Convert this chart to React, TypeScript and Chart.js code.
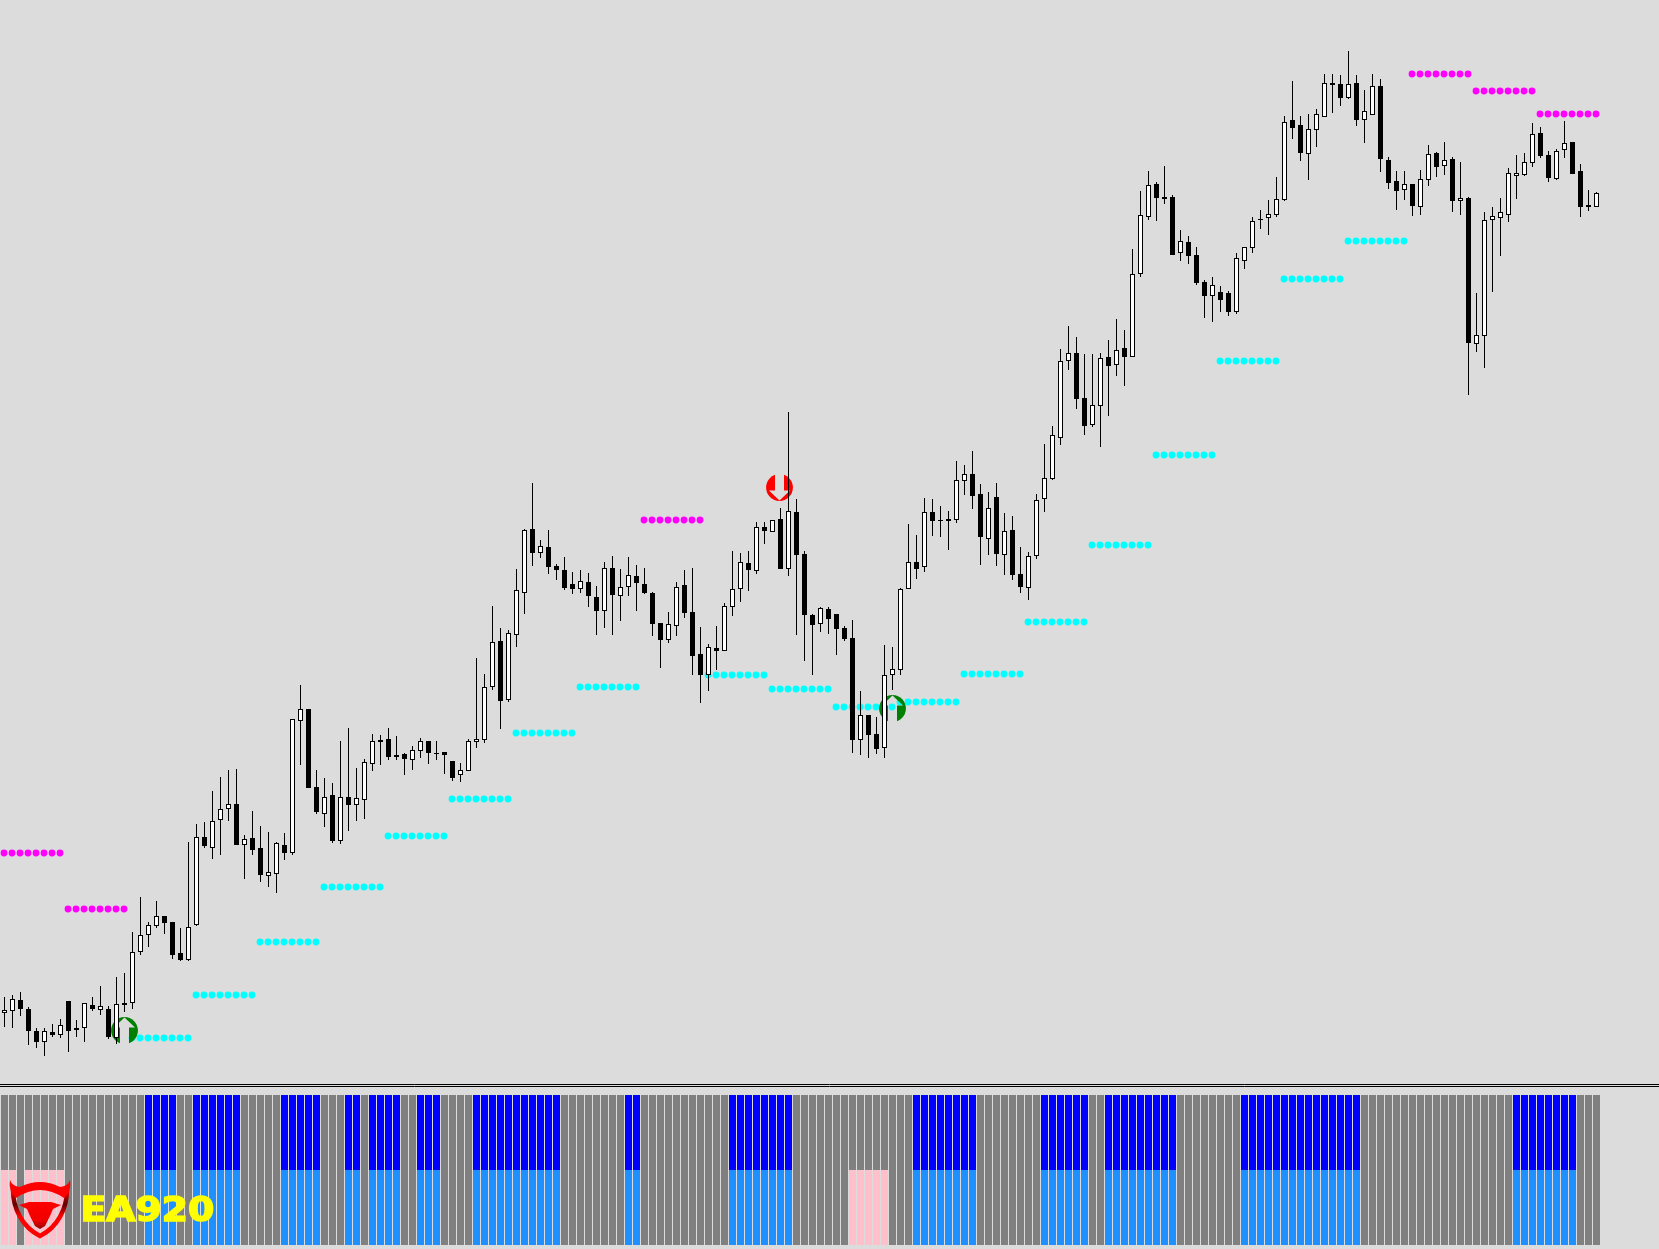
import React, { useEffect, useRef } from "react";
import { Chart, registerables } from "chart.js";

Chart.register(...registerables);

const opens = [
  87,89,100,91,69,58,68,65,99,72,
  72,95,90,91,62,97,97,148,165,174,
  184,178,147,140,175,263,252,280,291,296,
  255,262,252,224,226,255,247,379,391,313,
  286,305,259,303,295,300,336,360,361,345,
  346,340,349,359,347,348,339,325,329,358,
  360,413,459,400,465,507,571,547,553,534,
  530,516,511,518,503,489,532,504,513,524,
  516,507,477,460,474,515,488,446,425,452,
  449,493,511,537,529,573,568,581,531,588,
  546,485,476,491,486,472,462,360,385,366,
  352,425,430,511,538,533,588,580,581,580,
  619,626,606,561,603,545,570,526,512,544,
  601,621,662,739,747,702,675,694,743,735,
  752,743,826,883,916,903,903,847,858,845,
  818,804,808,807,788,839,852,881,882,885,
  900,980,975,946,970,983,1017,1016,1002,1017,
  980,985,1014,940,919,910,916,893,920,947,
  934,941,899,902,756,764,880,882,885,924,
  925,937,967,945,921,950,958,929,895,893,
];
const closes = [
  90,101,91,69,58,69,65,75,69,70,
  97,91,94,63,96,95,148,165,175,184,
  177,145,140,173,263,254,279,291,296,255,
  261,250,225,228,257,247,381,391,312,288,
  303,259,303,295,302,338,359,358,343,343,
  341,350,359,347,346,345,322,330,359,361,
  413,458,399,467,510,570,547,554,533,530,
  512,511,519,504,489,532,505,513,525,517,
  507,476,460,476,513,487,444,425,453,449,
  494,511,538,530,573,569,580,531,589,545,
  485,475,492,481,471,461,360,385,365,351,
  425,431,511,538,531,588,579,579,579,620,
  626,604,563,592,546,569,525,513,544,600,
  622,665,739,747,701,674,695,742,734,750,
  743,826,885,915,902,901,845,859,844,817,
  804,815,800,788,842,853,879,880,886,901,
  978,972,947,971,986,1017,1015,1002,1016,980,
  989,1014,941,917,909,916,894,921,946,933,
  940,899,902,757,765,880,884,888,927,927,
  938,966,944,922,949,957,926,893,893,907,
];
const highs = [
  103,105,108,93,72,72,76,81,99,80,
  97,103,114,94,123,127,168,203,178,199,
  184,178,172,258,276,278,309,323,330,331,
  265,289,274,268,258,267,381,415,391,330,
  322,317,359,372,332,341,366,365,372,364,
  347,354,362,359,359,348,339,337,361,442,
  426,494,472,470,531,571,617,560,570,536,
  543,528,530,527,514,538,544,531,543,535,
  532,508,477,488,518,530,532,473,456,474,
  497,549,547,549,578,578,580,592,688,601,
  549,486,493,493,486,474,480,409,385,383,
  455,453,512,576,565,602,601,594,589,639,
  635,649,616,608,617,587,584,553,548,606,
  656,674,751,774,763,746,746,747,760,781,
  770,851,909,929,918,934,905,870,864,853,
  820,823,814,809,847,853,883,890,900,923,
  984,1019,984,986,991,1026,1026,1025,1049,1025,
  1010,1026,1021,943,929,929,916,930,955,948,
  958,943,938,903,807,888,893,902,932,945,
  947,977,973,949,951,979,958,936,910,908,
];
const lows = [
  73,72,84,55,52,44,63,62,48,63,
  58,89,85,61,56,88,91,145,153,172,
  166,141,139,139,174,252,241,245,279,255,
  221,245,218,213,207,240,245,335,312,286,
  273,257,256,269,279,281,329,335,340,340,
  325,330,342,336,340,326,319,318,329,352,
  357,410,371,398,453,486,534,542,526,520,
  510,506,507,493,465,472,465,479,504,489,
  506,464,432,457,464,482,425,397,409,430,
  449,484,498,509,526,556,568,531,524,465,
  439,425,468,466,445,459,347,345,342,346,
  342,410,425,511,521,528,564,563,550,577,
  605,591,535,545,534,525,520,507,500,541,
  588,620,655,730,691,665,673,653,684,724,
  714,743,823,880,879,896,845,839,836,815,
  782,778,788,784,786,831,847,871,865,883,
  899,961,939,920,953,983,987,994,1001,974,
  957,985,928,911,890,900,884,885,914,923,
  925,888,885,705,748,732,808,844,878,901,
  924,933,942,918,920,942,926,883,889,893,
];

// Support / resistance dashes: each group spans eight bars from its start bar
const supportStarts = [16,24,32,40,48,56,64,72,88,96,104,112,120,128,136,144,152,160,168];
const supportLevels = [62,105,158,213,264,301,367,413,425,411,393,398,426,478,555,645,739,821,859];
const resistanceStarts = [0,8,80,176,184,192];
const resistanceLevels = [247,191,580,1026,1009,986];

// Signals
const buyBars = [15, 111];
const buyLevels = [69.5, 391.5];
const sellBars = [96.875];
const sellLevels = [612.5];

// Lower panel: runs of bars, [first, last]
const bullRuns = [[18,21],[24,29],[35,39],[43,44],[46,49],[52,54],[59,69],[78,79],[91,98],[114,121],[130,135],[138,146],[155,169],[189,196]];
const bearRuns = [[0,1],[3,7],[106,110]];

const separatorLevels = [15.5, 13.5];
const BRAND = "EA920";

const BACKGROUND = "#DCDCDC";
const DOT_SHIFT = -0.0625;

const inRuns = (runs: number[][], i: number) => runs.some(([a, b]) => i >= a && i <= b);

function signalIcon(color: string, up: boolean) {
  const size = 27;
  const c = document.createElement("canvas");
  c.width = size;
  c.height = size;
  const g = c.getContext("2d")!;
  g.translate(size / 2, size / 2);
  if (up) g.scale(1, -1);
  g.fillStyle = color;
  g.beginPath();
  g.arc(0, 0, 13.4, 0, Math.PI * 2);
  g.fill();
  g.globalCompositeOperation = "destination-out";
  g.fillStyle = "#000";
  g.beginPath();
  g.moveTo(-4.5, -15);
  g.lineTo(4.5, -15);
  g.lineTo(4.5, 3);
  g.lineTo(10.5, 3);
  g.lineTo(0, 13);
  g.lineTo(-10.5, 3);
  g.lineTo(-4.5, 3);
  g.closePath();
  g.fill();
  return c;
}

const brandPlugin = {
  id: "brand",
  afterDatasetsDraw(chart: any) {
    const g: CanvasRenderingContext2D = chart.ctx;
    g.save();
    // bull-head logo
    const side = g.createLinearGradient(0, 1190, 0, 1225);
    side.addColorStop(0, "#ff0000");
    side.addColorStop(0.4, "#600000");
    side.addColorStop(0.75, "#ff0000");
    g.lineCap = "round";
    g.strokeStyle = side;
    g.lineWidth = 4.5;
    g.beginPath();
    g.moveTo(13, 1190);
    g.bezierCurveTo(13, 1208, 22, 1227, 40, 1236);
    g.bezierCurveTo(58, 1227, 67, 1208, 67, 1190);
    g.stroke();
    g.fillStyle = "#ff0000";
    g.beginPath();
    g.moveTo(10, 1180);
    g.quadraticCurveTo(8, 1191, 16, 1198);
    g.quadraticCurveTo(40, 1182, 64, 1198);
    g.quadraticCurveTo(72, 1191, 70, 1180);
    g.quadraticCurveTo(68, 1186, 60, 1187);
    g.quadraticCurveTo(40, 1177, 20, 1187);
    g.quadraticCurveTo(12, 1186, 10, 1180);
    g.closePath();
    g.fill();
    const head = g.createLinearGradient(0, 1202, 0, 1228);
    head.addColorStop(0, "#ff0000");
    head.addColorStop(0.7, "#f00000");
    head.addColorStop(1, "#a00000");
    g.fillStyle = head;
    g.beginPath();
    g.moveTo(19, 1205);
    g.lineTo(29, 1202);
    g.lineTo(51, 1202);
    g.lineTo(61, 1205);
    g.lineTo(53, 1209);
    g.lineTo(50, 1216);
    g.lineTo(45, 1226);
    g.lineTo(40, 1229);
    g.lineTo(35, 1226);
    g.lineTo(30, 1216);
    g.lineTo(27, 1209);
    g.closePath();
    g.fill();
    // brand text
    g.translate(80.5, 1220.5);
    g.scale(1.11, 1);
    g.font = "bold 34px 'DejaVu Sans'";
    g.textBaseline = "alphabetic";
    g.fillStyle = "#FFFF00";
    g.strokeStyle = "#FFFF00";
    g.lineWidth = 1.6;
    g.lineJoin = "miter";
    g.fillText(BRAND, 0, 0);
    g.strokeText(BRAND, 0, 0);
    g.restore();
  },
};

export default function App() {
  const ref = useRef<HTMLCanvasElement>(null);

  useEffect(() => {
    const bars = opens.map((_, i) => i);
    const bullish = bars.map((i) => closes[i] > opens[i]);
    const dotPoints = (starts: number[], levels: number[]) =>
      starts.flatMap((s, g) =>
        Array.from({ length: 8 }, (_, k) => ({ x: s + k + DOT_SHIFT, y: levels[g] }))
      );
    const xMin = -0.5625;
    const xMax = 206.8125;

    const chart = new Chart(ref.current!, {
      type: "bar",
      data: {
        datasets: [
          {
            type: "scatter",
            data: buyBars.map((x, i) => ({ x, y: buyLevels[i] })),
            pointStyle: signalIcon("#008000", true) as any,
            order: 4,
          },
          {
            type: "scatter",
            data: sellBars.map((x, i) => ({ x, y: sellLevels[i] })),
            pointStyle: signalIcon("#FF0000", false) as any,
            order: 4,
          },
          {
            type: "scatter",
            data: dotPoints(supportStarts, supportLevels),
            pointRadius: 3.4,
            pointBorderWidth: 0,
            pointBackgroundColor: "#00FFFF",
            order: 5,
          },
          {
            type: "scatter",
            data: dotPoints(resistanceStarts, resistanceLevels),
            pointRadius: 3.4,
            pointBorderWidth: 0,
            pointBackgroundColor: "#FF00FF",
            order: 5,
          },
          {
            data: bars.map((i) => ({ x: i, y: [lows[i], highs[i]] })),
            backgroundColor: "#000000",
            barThickness: 1,
            borderWidth: 0,
            inflateAmount: 0,
            grouped: false,
            order: 3,
          },
          {
            data: bars.map((i) => ({ x: i, y: [opens[i], closes[i]] })),
            backgroundColor: bars.map((i) => (bullish[i] ? "#FFFFFF" : "#000000")),
            borderColor: "#000000",
            borderWidth: 1,
            borderSkipped: false,
            barThickness: 5,
            inflateAmount: 0,
            grouped: false,
            order: 2,
          },
          {
            data: bars.map((i) => ({ x: i, y: [1, 2] })),
            yAxisID: "yPanel",
            backgroundColor: bars.map((i) => (inRuns(bullRuns, i) ? "#0000FF" : "#808080")),
            barThickness: 7,
            borderWidth: 0,
            inflateAmount: 0,
            grouped: false,
            order: 6,
          },
          {
            data: bars.map((i) => ({ x: i, y: [0, 1] })),
            yAxisID: "yPanel",
            backgroundColor: bars.map((i) =>
              inRuns(bullRuns, i) ? "#1E90FF" : inRuns(bearRuns, i) ? "#FFC0CB" : "#808080"
            ),
            barThickness: 7,
            borderWidth: 0,
            inflateAmount: 0,
            grouped: false,
            order: 6,
          },
          ...separatorLevels.map((y) => ({
            type: "scatter" as const,
            data: [
              { x: xMin, y },
              { x: xMax, y },
            ],
            showLine: true,
            borderColor: "#000000",
            borderWidth: 1,
            pointRadius: 0,
            order: 7,
          })),
        ] as any,
      },
      options: {
        animation: false,
        responsive: false,
        events: [],
        layout: { padding: 0, autoPadding: false },
        plugins: {
          legend: { display: false },
          title: { display: false },
          tooltip: { enabled: false },
        },
        scales: {
          x: { type: "linear", display: false, min: xMin, max: xMax, offset: false },
          y: { type: "linear", display: false, min: -149, max: 1100 },
          yPanel: { type: "linear", display: false, min: -4 / 75, max: 16.6 },
        },
      } as any,
      plugins: [brandPlugin],
    });
    return () => chart.destroy();
  }, []);

  return (
    <div style={{ position: "fixed", inset: 0, background: BACKGROUND, overflow: "hidden" }}>
      <canvas ref={ref} width={1659} height={1249} style={{ display: "block", width: 1659, height: 1249 }} />
    </div>
  );
}
